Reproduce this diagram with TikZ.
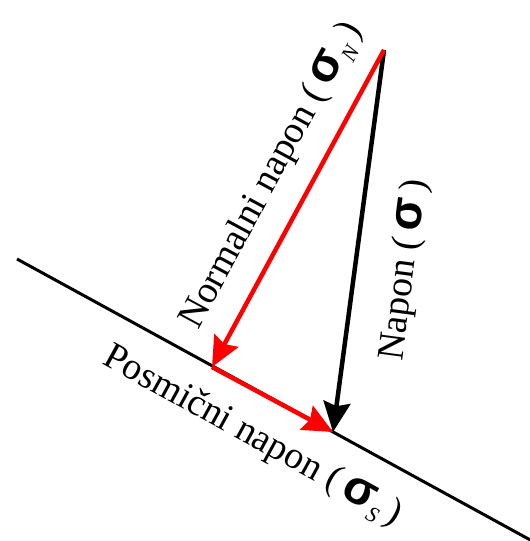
\documentclass[tikz,border=0pt]{standalone}
\usepackage{fontspec}
\setmainfont{Liberation Serif}
\newfontfamily\sigfont{Liberation Sans}
\usetikzlibrary{arrows.meta}
\definecolor{vred}{RGB}{255,0,0}
\newcommand{\sgm}{{\sigfont\bfseries\fontsize{48}{48}\selectfont σ}}
\newcommand{\subsc}[1]{\raisebox{-9pt}{\itshape\fontsize{22}{22}\selectfont #1}}
\begin{document}
\begin{tikzpicture}[x=1pt,y=1pt,
  baseline/.style={line width=3pt,black},
  vec/.style={line width=4.5pt,-{Stealth[length=30pt,width=27pt,inset=4pt]}},
  lbl/.style={font=\fontsize{38}{40}\selectfont,inner sep=0pt}]
\useasboundingbox (0,0) rectangle (530,541);
\coordinate (L1) at (17,282);
\coordinate (L2) at (534,-1);
\coordinate (T) at (384,491);
\coordinate (F) at (212,174);
\coordinate (B) at (333,109);
\draw[baseline] (L1) -- (L2);
\draw[vec,black] (T) -- (B);
\draw[vec,vred] (T) -- (F);
\draw[vec,vred] (F) -- (B);
\node[lbl,rotate=61.6] (nlab) at (272,365) {Normalni napon (\,\sgm\subsc{N}\,)};
\node[lbl,rotate=82.4] (alab) at (405,271) {Napon (\,\sgm\,)};
\node[lbl,rotate=-28.8] (slab) at (252,104) {Posmični napon (\,\sgm\subsc{S}\,)};
\end{tikzpicture}
\end{document}
